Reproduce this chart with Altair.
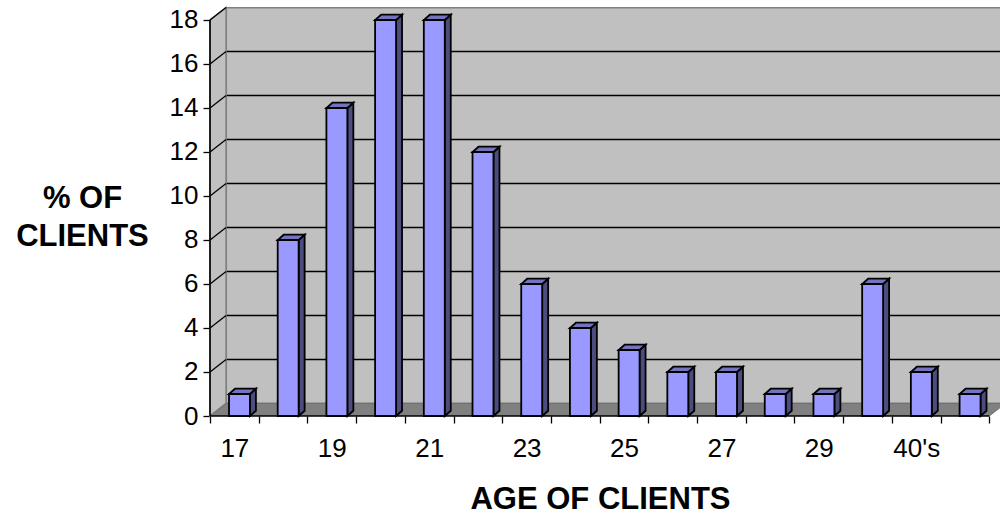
import json
import altair as alt
import pandas as pd

# ---- data ----
categories = ["17", "18", "19", "20", "21", "22", "23", "24", "25", "26",
              "27", "28", "29", "30's", "40's", "50's"]
percent = [1, 8, 14, 18, 18, 12, 6, 4, 3, 2, 2, 1, 1, 6, 2, 1]
y_ticks = [0, 2, 4, 6, 8, 10, 12, 14, 16, 18]

# ---- geometry (in data units) ----
N = len(categories)
YMAX = y_ticks[-1]
DX, DY = 0.33, 0.57        # depth of walls
XMAX, YTOP = 16.22, 18.59  # visible domain
BL, BR = 0.39, 0.82        # bar front face inside band
BDX, BDY = 0.123, 0.24     # bar depth

FONT = "Liberation Sans"
xs = alt.Scale(domain=[0, XMAX], nice=False, zero=False)
ys = alt.Scale(domain=[0, YTOP], nice=False, zero=False)

names_js = json.dumps(categories)
xaxis = alt.Axis(
    values=list(range(N + 1)),
    labelExpr=f"(datum.value % 2 == 0 && datum.value < {N}) ? {names_js}[datum.value] : ''",
    labelOffset=24.35, tickSize=7, tickColor="black", tickWidth=1.3,
    domain=False, grid=False, labelFont=FONT, labelFontSize=26, labelColor="black",
    labelPadding=12, labelOverlap=False, labelFlush=False, labelBound=False,
    title="AGE OF CLIENTS", titleFont=FONT, titleFontSize=31, titleFontWeight="bold",
    titleColor="black", titleX=390, titleY=92, titleBaseline="alphabetic", titleAlign="center",
)
yaxis = alt.Axis(
    values=y_ticks, tickSize=7, tickColor="black", tickWidth=1.3,
    domain=False, grid=False, labelFont=FONT, labelFontSize=26, labelColor="black",
    labelPadding=5, labelOverlap=False, labelBound=False,
    title=["% OF", "CLIENTS"], titleAngle=0, titleX=-128, titleY=176,
    titleAlign="center", titleBaseline="top", titleFont=FONT, titleFontSize=31,
    titleFontWeight="bold", titleColor="black", titleLineHeight=38,
)

def X(f):
    return alt.X(f, type="quantitative", scale=xs, axis=xaxis)

def Y(f):
    return alt.Y(f, type="quantitative", scale=ys, axis=yaxis, stack=None)

k = [0, 1]

# back wall
back = pd.DataFrame([{"x": DX, "x2": N + DX, "y": DY, "y2": YMAX + DY}])
back_wall = alt.Chart(back).mark_rect(fill="#C0C0C0", stroke="#808080", strokeWidth=2, clip=True).encode(
    x=X("x"), x2="x2", y=Y("y"), y2="y2")

grid = pd.DataFrame({"v": y_ticks[1:-1]})
back_grid = alt.Chart(grid).transform_calculate(
    y=f"datum.v + {DY}", x=f"{DX}", x2=f"{N + DX}"
).mark_rule(color="black", strokeWidth=1.4, clip=True).encode(x=X("x"), x2="x2", y=Y("y"))

# left wall
left = pd.DataFrame({"k": k})
left["x"] = left.k * DX
left["y"] = left.k * DY
left["y2"] = YMAX + left.k * DY
left_wall = alt.Chart(left).mark_area(fill="#C0C0C0", stroke="#808080", strokeWidth=1.5, orient="vertical").encode(
    x=X("x"), y=Y("y"), y2="y2")

lgrid = pd.DataFrame({"v": y_ticks[1:]})
left_grid = alt.Chart(lgrid).transform_calculate(
    x="0", x2=f"{DX}", y="datum.v", y2=f"datum.v + {DY}"
).mark_rule(color="black", strokeWidth=1.3).encode(x=X("x"), x2="x2", y=Y("y"), y2="y2")

# floor
fl = pd.DataFrame({"k": k})
fl["y"] = fl.k * DY
fl["x"] = fl.k * DX
fl["x2"] = N + fl.k * DX
floor = alt.Chart(fl).mark_area(fill="#808080", stroke="#707070", strokeWidth=1, orient="horizontal", clip=True).encode(
    y=Y("y"), x=X("x"), x2="x2")

# bars
bars = pd.DataFrame({"cat": categories, "i": range(N), "val": percent})
bk = bars.merge(pd.DataFrame({"k": k}), how="cross")

SW = 1.8
side = alt.Chart(bk).transform_calculate(
    x=f"datum.i + {BR} + datum.k * {BDX}",
    y=f"datum.k * {BDY}",
    y2=f"datum.val + datum.k * {BDY}",
).mark_area(fill="#4C4C7F", stroke="black", strokeWidth=SW, orient="vertical").encode(
    x=X("x"), y=Y("y"), y2="y2", detail="cat:N")

top = alt.Chart(bk).transform_calculate(
    y=f"datum.val + datum.k * {BDY}",
    x=f"datum.i + {BL} + datum.k * {BDX}",
    x2=f"datum.i + {BR} + datum.k * {BDX}",
).mark_area(fill="#7373BF", stroke="black", strokeWidth=SW, orient="horizontal").encode(
    y=Y("y"), x=X("x"), x2="x2", detail="cat:N")

front = alt.Chart(bars).transform_calculate(
    x=f"datum.i + {BL}", x2=f"datum.i + {BR}", y="0"
).mark_rect(fill="#9999FF", stroke="black", strokeWidth=SW).encode(
    x=X("x"), x2="x2", y=Y("y"), y2="val:Q")

# axis lines
ax = pd.DataFrame([{"x": 0, "x2": 0, "y": 0, "y2": YMAX}, {"x": 0, "x2": N, "y": 0, "y2": 0}])
axis_lines = alt.Chart(ax).mark_rule(color="black", strokeWidth=1.6).encode(
    x=X("x"), x2="x2", y=Y("y"), y2="y2")

chart = alt.layer(
    back_wall, back_grid, left_wall, left_grid, floor, side, top, front, axis_lines
).properties(
    width=790, height=409,
    autosize=alt.AutoSizeParams(type="none"),
    padding={"left": 210, "top": 7, "right": 0, "bottom": 101},
    background="white",
).configure_view(stroke=None)

chart.save("out.html", embed_options={"renderer": "svg", "actions": False})
